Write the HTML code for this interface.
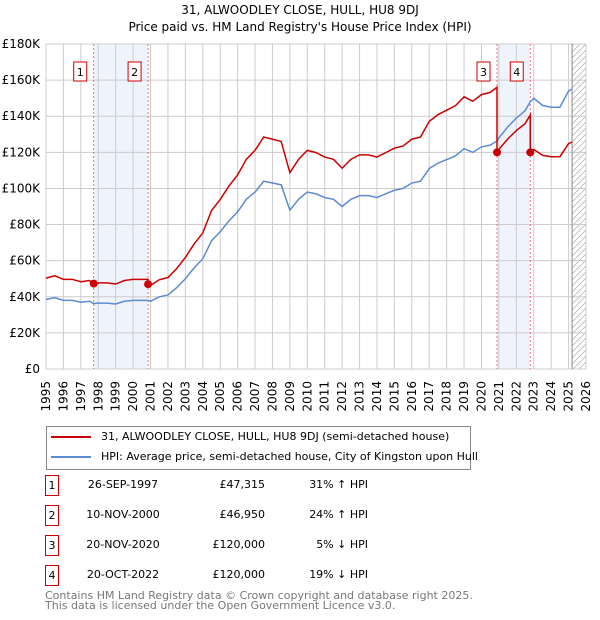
<!DOCTYPE html>
<html><head><meta charset="utf-8"><style>
body{margin:0;width:600px;height:620px;background:#fff;font-family:"DejaVu Sans","Liberation Sans",sans-serif;position:relative;overflow:hidden}
svg text{font-family:"DejaVu Sans","Liberation Sans",sans-serif}
.t{position:absolute;font-size:11px;color:#000;white-space:nowrap}
.box{position:absolute;width:12px;height:19px;border:1px solid #c00;font-size:11px;text-align:center;line-height:19px}
</style></head><body>
<div class="t" style="left:0;width:600px;text-align:center;top:3px;font-size:12px">31, ALWOODLEY CLOSE, HULL, HU8 9DJ</div>
<div class="t" style="left:0;width:600px;text-align:center;top:20px;font-size:12px">Price paid vs. HM Land Registry's House Price Index (HPI)</div>
<svg id="c" width="600" height="420" style="position:absolute;left:0;top:0"></svg>
<div style="position:absolute;left:46px;top:426px;width:423px;height:42px;border:1px solid #888"></div>
<div style="position:absolute;left:51px;top:436px;width:40px;height:2px;background:#c00"></div>
<div class="t" style="left:101px;top:430px">31, ALWOODLEY CLOSE, HULL, HU8 9DJ (semi-detached house)</div>
<div style="position:absolute;left:51px;top:456px;width:40px;height:2px;background:#5b8bd0"></div>
<div class="t" style="left:101px;top:450px">HPI: Average price, semi-detached house, City of Kingston upon Hull</div>
<div id="tbl"></div>
<div class="t" style="left:45px;top:591px;color:#777;line-height:10px">Contains HM Land Registry data © Crown copyright and database right 2025.<br>This data is licensed under the Open Government Licence v3.0.</div>
<script>
const hpiYears=[1995,1995.5,1996,1996.5,1997,1997.5,1997.74,1998,1998.5,1999,1999.5,2000,2000.5,2000.86,2001,2001.5,2002,2002.5,2003,2003.5,2004,2004.5,2005,2005.5,2006,2006.5,2007,2007.5,2008,2008.5,2009,2009.5,2010,2010.5,2011,2011.5,2012,2012.5,2013,2013.5,2014,2014.5,2015,2015.5,2016,2016.5,2017,2017.5,2018,2018.5,2019,2019.5,2020,2020.5,2020.89,2021,2021.5,2022,2022.5,2022.8,2023,2023.5,2024,2024.5,2025,2025.2];
const hpiValues=[38.5,39.5,38,38,37,37.5,36.2,36.5,36.5,36,37.5,38,38,38,37.5,40,41,45,50,56,61,71,76,82,87,94,98,104,103,102,88,94,98,97,95,94,90,94,96,96,95,97,99,100,103,104,111,114,116,118,122,120,123,124,126.3,128,134,139,143,148,150,146,145,145,154,155];
const saleYears=[1997.74,2000.86,2020.89,2022.8];
const salePrices=[47.315,46.95,120,120];
const saleDates=["26-SEP-1997","10-NOV-2000","20-NOV-2020","20-OCT-2022"];
const salePriceLabels=["£47,315","£46,950","£120,000","£120,000"];
const saleHpiLabels=["31% ↑ HPI","24% ↑ HPI","5% ↓ HPI","19% ↓ HPI"];
const yTicks=[0,20,40,60,80,100,120,140,160,180];
const xTicks=[1995,1996,1997,1998,1999,2000,2001,2002,2003,2004,2005,2006,2007,2008,2009,2010,2011,2012,2013,2014,2015,2016,2017,2018,2019,2020,2021,2022,2023,2024,2025,2026];
const NS="http://www.w3.org/2000/svg",svg=document.getElementById('c');
const X=y=>46+(y-1995)*(540/31), Y=v=>369-v*(325/180);
function el(t,a,p){const e=document.createElementNS(NS,t);for(const k in a)e.setAttribute(k,a[k]);(p||svg).appendChild(e);return e;}
function hpiAt(t){for(let i=1;i<hpiYears.length;i++)if(t<=hpiYears[i]){const f=(t-hpiYears[i-1])/(hpiYears[i]-hpiYears[i-1]);return hpiValues[i-1]+f*(hpiValues[i]-hpiValues[i-1]);}return hpiValues[hpiValues.length-1];}
[[0,1],[2,3]].forEach(p=>{const r=el('rect',{x:X(saleYears[p[0]]),y:44,width:X(saleYears[p[1]])-X(saleYears[p[0]]),height:325,fill:'#eef3fc'});
});
const defs=el('defs',{});const pat=el('pattern',{id:'h',width:6,height:6,patternUnits:'userSpaceOnUse'},defs);el('path',{d:'M0,6L6,0',stroke:'#aaa','stroke-width':0.7},pat);
const hr=el('rect',{x:X(2025.2),y:44,width:X(2026)-X(2025.2),height:325,fill:'url(#h)'});

xTicks.forEach(t=>{const l=el('line',{x1:X(t),x2:X(t),y1:44,y2:369,stroke:'#ccc'});
const tx=el('text',{x:0,y:0,'text-anchor':'end','font-size':12,transform:'translate('+(X(t)+4)+',381) rotate(-90)'});tx.textContent=t;});
yTicks.forEach(v=>{const l=el('line',{x1:46,x2:586,y1:Y(v),y2:Y(v),stroke:'#ccc'});
const tx=el('text',{x:40,y:Y(v)+4,'text-anchor':'end','font-size':12});tx.textContent=v?'£'+v+'K':'£0';});
el('line',{x1:X(2025.2),x2:X(2025.2),y1:44,y2:369,stroke:'#888'});
saleYears.forEach((s,i)=>{const l=el('line',{x1:X(s),x2:X(s),y1:44,y2:369,stroke:'#e55','stroke-dasharray':'2,2','stroke-width':0.8});
const r=el('rect',{x:X(s)-20,y:62,width:13,height:19,fill:'#fff',stroke:'#c00'});
const t=el('text',{x:X(s)-13.5,y:76,'text-anchor':'middle','font-size':11});t.textContent=i+1;});
const hp=el('polyline',{points:hpiYears.map((t,i)=>X(t)+','+Y(hpiValues[i])).join(' '),fill:'none',stroke:'#5b8bd0','stroke-width':1.5});

let seq=[];
for(let i=0;i<hpiYears.length;i++){const t=hpiYears[i];
 saleYears.forEach((s,k)=>{if(k>0&&s>(i?hpiYears[i-1]:0)&&s<=t){seq.push(X(s)+','+Y(salePrices[k-1]*hpiAt(s)/hpiAt(saleYears[k-1])));seq.push(X(s)+','+Y(salePrices[k]));}});
 let k=0;saleYears.forEach((s,j)=>{if(t>=s)k=j;});
 seq.push(X(t)+','+Y(salePrices[k]*hpiValues[i]/hpiAt(saleYears[k])));}
const rp=el('polyline',{points:seq.join(' '),fill:'none',stroke:'#c00','stroke-width':1.5});

saleYears.forEach((s,i)=>{const c=el('circle',{cx:X(s),cy:Y(salePrices[i]),r:4,fill:'#c00'});});
const tb=document.getElementById('tbl');
saleDates.forEach((d,i)=>{const y=475+i*30;
 const b=document.createElement('div');b.className='box';b.style.left='45px';b.style.top=y+'px';b.textContent=i+1;tb.appendChild(b);
 [[d,78,'center',90],[salePriceLabels[i],180,'right',85],[saleHpiLabels[i],280,'right',88]].forEach(c=>{const e=document.createElement('div');e.className='t';e.style.left=c[1]+'px';e.style.width=c[3]+'px';e.style.textAlign=c[2];e.style.top=(y+3)+'px';e.textContent=c[0];
 tb.appendChild(e);});});
</script>
</body></html>
